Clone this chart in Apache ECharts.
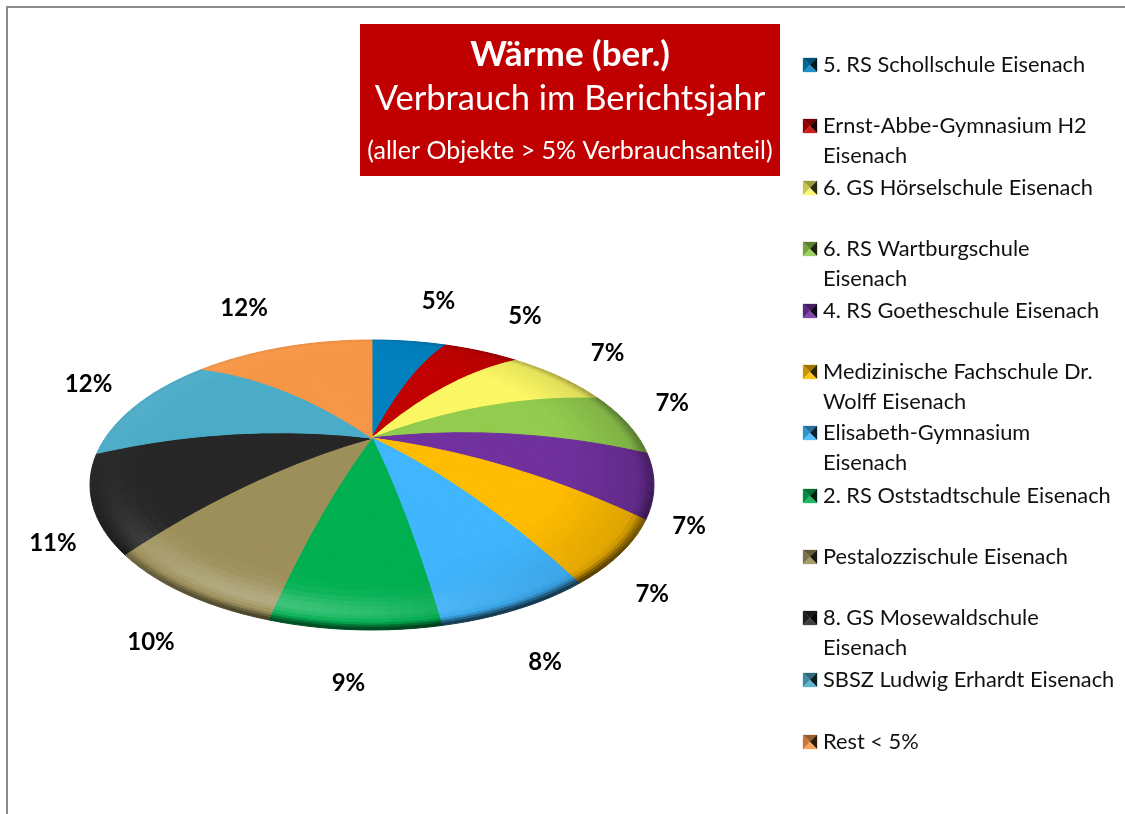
<!DOCTYPE html>
<html>
<head>
<meta charset="utf-8">
<style>html,body{margin:0;padding:0;background:#fff}#c{width:1125px;height:814px}</style>
<script src="https://cdn.jsdelivr.net/npm/echarts@6/dist/echarts.min.js"></script>
</head>
<body>
<div id="c"></div>
<script>
const categories = [
  '5. RS Schollschule Eisenach',
  'Ernst-Abbe-Gymnasium H2\nEisenach',
  '6. GS Hörselschule Eisenach',
  '6. RS Wartburgschule\nEisenach',
  '4. RS Goetheschule Eisenach',
  'Medizinische Fachschule Dr.\nWolff Eisenach',
  'Elisabeth-Gymnasium\nEisenach',
  '2. RS Oststadtschule Eisenach',
  'Pestalozzischule Eisenach',
  '8. GS Mosewaldschule\nEisenach',
  'SBSZ Ludwig Erhardt Eisenach',
  'Rest < 5%'
];
const shares = [5, 5, 7, 7, 7, 7, 8, 9, 10, 11, 12, 12];
const colors = ['#0080BE','#C00000','#FBF764','#92CC4E','#70309E','#FFBC00','#40B6FF','#00B050','#9C8F5A','#262626','#4BACC8','#F79646'];
const titleLines = ['Wärme (ber.)', 'Verbrauch im Berichtsjahr', '(aller Objekte > 5% Verbrauchsanteil)'];

// layout of the domed, tilted pie
const PIE = {cx: 372, cy: 485, rx: 282, ry: 145, dome: 47, skew: 9 * Math.PI / 180, bump: 2.4 * Math.PI / 180};
const labelRing = 1.22;
const labelNudge = [[21,-9],[19,-7],[6,-1],[-12,-8],[-27,40],[-27,29],[-15,28],[-11,20],[6,23],[22,34],[4,-5],[-20,-10]];
const legendTop = [64,125,187,248,310,371,432,495,556,617,679,741];
const rings = [0,.1,.2,.3,.4,.5,.6,.66,.72,.76,.8,.83,.86,.88,.9,.92,.94,.955,.97,.98,.99,1];

const total = shares.reduce((a, b) => a + b, 0);
const baseWarp = th => th - PIE.skew * Math.sin(th);
function warp(th) {
  const d = (th - 155 * Math.PI / 180) / (70 * Math.PI / 180);
  const extra = Math.abs(d) < 1 ? PIE.bump * Math.pow(Math.cos(d * Math.PI / 2), 2) : 0;
  return baseWarp(th) + extra;
}
function project(r, th) {
  const t = warp(th);
  return [PIE.cx + PIE.rx * r * Math.sin(t),
          PIE.cy - PIE.ry * r * Math.cos(t) - PIE.dome * (1 - r * r)];
}
const sm = (a, b, x) => { const k = Math.min(1, Math.max(0, (x - a) / (b - a))); return k * k * (3 - 2 * k); };
function rgb(hex) { return [1,3,5].map(i => parseInt(hex.substr(i, 2), 16)); }
function shadeColor(hex, r, th) {
  const t = warp(th), c = Math.cos(t), s = Math.sin(t);
  const low = Math.max(0, -c), up = Math.max(0, c), right = Math.max(0, s);
  const glowAngle = Math.exp(-Math.pow((t - 205 * Math.PI / 180) / (40 * Math.PI / 180), 2));
  const glowRing = Math.exp(-Math.pow((r - .93) / (r < .93 ? .07 : .03), 2));
  const white = glowAngle * 0.24 * glowRing + Math.max(0, -s) * up * sm(.8, 1, r) * .08;
  const dark = low * sm(.965, 1, r) * .6 + right * sm(.65, 1, r) * .14 + right * sm(.94, 1, r) * .24 + up * sm(.97, 1, r) * .05;
  return 'rgb(' + rgb(hex).map(v => Math.round((v + (255 - v) * white) * (1 - dark))).join(',') + ')';
}
function mult(hex, k) {
  return 'rgb(' + rgb(hex).map(v => Math.min(255, Math.round(k > 1 ? v + (255 - v) * (k - 1) : v * k))).join(',') + ')';
}

function renderSlice(params, api) {
  const i = params.dataIndex, value = api.value(1);
  const before = shares.slice(0, i).reduce((a, b) => a + b, 0);
  const a0 = before / total * 2 * Math.PI, a1 = (before + value) / total * 2 * Math.PI;
  const steps = Math.max(4, Math.round((a1 - a0) / (2.5 * Math.PI / 180)));
  const children = [];
  for (let k = 0; k < steps; k++) {
    const ta = a0 + (a1 - a0) * k / steps, tb = a0 + (a1 - a0) * (k + 1) / steps, tm = (ta + tb) / 2;
    for (let q = 0; q < rings.length - 1; q++) {
      const r0 = rings[q], r1 = rings[q + 1];
      const fill = shadeColor(colors[i], (r0 + r1) / 2, tm);
      children.push({type: 'polygon', silent: true,
        shape: {points: [project(r0, ta), project(r1, ta), project(r1, tb), project(r0, tb)]},
        style: {fill: fill, stroke: fill, lineWidth: 1}});
    }
  }
  const tm = baseWarp((a0 + a1) / 2);
  children.push({type: 'text', z2: 50, silent: true, style: {
    text: Math.round(value) + '%',
    x: PIE.cx + PIE.rx * labelRing * Math.sin(tm) + labelNudge[i][0],
    y: PIE.cy - PIE.ry * labelRing * Math.cos(tm) + labelNudge[i][1] + 1,
    align: 'center', verticalAlign: 'middle',
    font: 'bold 24px Lato', fill: '#000'}});
  return {type: 'group', children};
}

function renderLegend(params, api) {
  const i = params.dataIndex, y = legendTop[i], x = 803, n = 14, h = n / 2;
  const col = colors[i];
  const cx = x + h, cy = y + 1;
  const L = cx - h, R = cx + h, T = cy - h, B = cy + h;
  const tri = (pts, fill) => ({type: 'polygon', silent: true, shape: {points: pts}, style: {fill: fill, stroke: fill, lineWidth: 0.3}});
  return {type: 'group', children: [
    tri([[L,T],[R,T],[cx,cy]], mult(col, .62)),
    tri([[L,T],[L,B],[cx,cy]], mult(col, .8)),
    tri([[R,T],[R,B],[cx,cy]], mult(col, .18)),
    tri([[L,B],[R,B],[cx,cy]], mult(col, 1.12)),
    {type: 'text', silent: true, style: {
      text: categories[i], x: 823, y: y - 14, align: 'left', verticalAlign: 'top',
      font: '21.8px Lato', lineHeight: 30, fill: '#111'}}
  ]};
}

const chart = echarts.init(document.getElementById('c'), null, {renderer: 'canvas'});
chart.setOption({
  animation: false,
  backgroundColor: '#fff',
  graphic: [
    {type: 'polyline', silent: true, shape: {points: [[7, 814], [7, 7], [1125, 7]]}, style: {stroke: '#8c8c8c', lineWidth: 2, fill: null}},
    {type: 'rect', silent: true, shape: {x: 360, y: 24, width: 420, height: 152}, style: {fill: '#C00000'}},
    {type: 'text', silent: true, z: 10, style: {text: titleLines[0], x: 570, y: 55, align: 'center', verticalAlign: 'middle', font: 'bold 35px Lato', fill: '#fff'}},
    {type: 'text', silent: true, z: 10, style: {text: titleLines[1], x: 570, y: 99, align: 'center', verticalAlign: 'middle', font: '34.5px Lato', fill: '#fff'}},
    {type: 'text', silent: true, z: 10, style: {text: titleLines[2], x: 570, y: 151, align: 'center', verticalAlign: 'middle', font: '25px Lato', fill: '#fff'}}
  ],
  series: [
    {type: 'custom', name: 'Anteil', coordinateSystem: 'none', renderItem: renderSlice, clip: false,
     data: shares.map((v, i) => [i, v])},
    {type: 'custom', name: 'Legende', coordinateSystem: 'none', renderItem: renderLegend, clip: false,
     data: categories.map((c, i) => [i, shares[i]])}
  ]
});
</script>
</body>
</html>
